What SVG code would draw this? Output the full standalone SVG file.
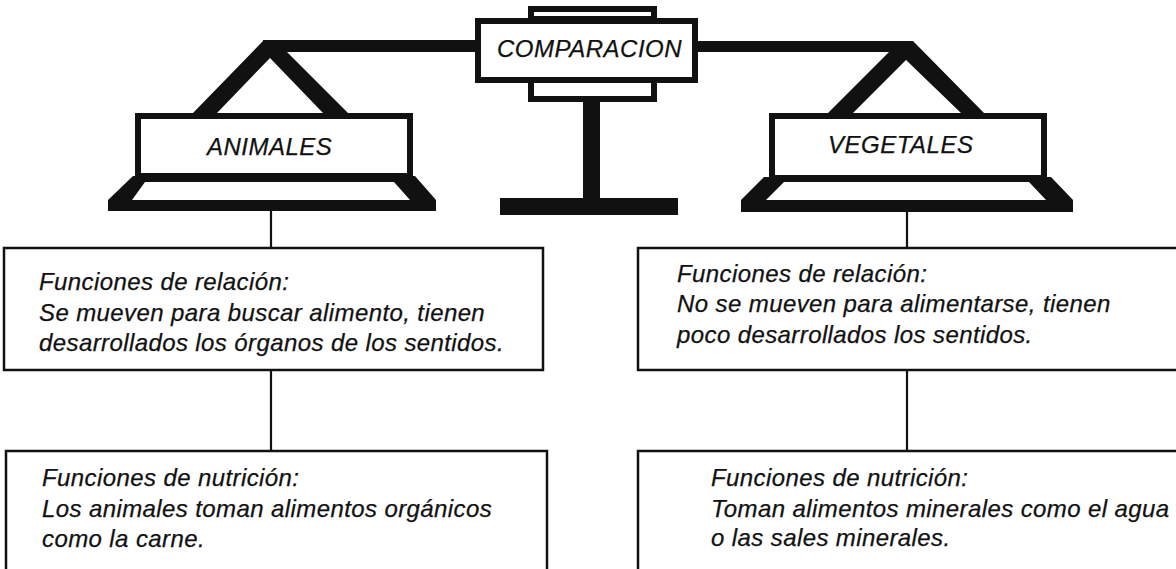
<svg xmlns="http://www.w3.org/2000/svg" width="1176" height="569" viewBox="0 0 1176 569">
<style>
  .t { font-family: "Liberation Sans", Arial, Helvetica, sans-serif; font-style: italic; font-size: 24px; letter-spacing: 0.4px; fill: #111; stroke: #111; stroke-width: 0.25; }
  .h { letter-spacing: 0.5px; }
  .box { fill: #fff; stroke: #111; stroke-width: 2.5; }
  .thick { fill: #fff; stroke: #111; stroke-width: 6; }
  .solid { fill: #111; stroke: none; }
  .conn { stroke: #111; stroke-width: 2.2; fill: none; }
</style>
<rect width="1176" height="569" fill="#fff"/>

<g id="connectors">
  <rect class="solid" x="263" y="40" width="214" height="12"/>
  <rect class="solid" x="696" y="41" width="215" height="11"/>
  <line class="conn" x1="271" y1="210" x2="271" y2="248"/>
  <line class="conn" x1="271" y1="370" x2="271" y2="451"/>
  <line class="conn" x1="907" y1="211" x2="907" y2="248"/>
  <line class="conn" x1="907" y1="370" x2="907" y2="451"/>
</g>

<g id="comparacion">
  <rect class="thick" x="531" y="9" width="123" height="10" stroke-width="5"/>
  <rect class="thick" x="531" y="80" width="123" height="19" stroke-width="5"/>
  <rect class="solid" x="583" y="99" width="17" height="101"/>
  <rect class="solid" x="500" y="198" width="178" height="17"/>
  <rect class="thick" x="478" y="21" width="217" height="59"/>
  <text class="t h" x="497" y="57">COMPARACION</text>
</g>

<g id="animales">
  <path class="solid" fill-rule="evenodd" d="M193,113 L263,41 L276,41 L348,113 Z M217,113 L270,58 L323,113 Z"/>
  <path class="solid" fill-rule="evenodd" d="M133,176 L415,176 L436,200 L436,211 L108,211 L108,200 Z M145,182 L394,182 L410,200 L132,200 Z"/>
  <rect class="thick" x="138" y="116" width="272" height="60"/>
  <text class="t h" x="207" y="155">ANIMALES</text>
</g>

<g id="vegetales">
  <path class="solid" fill-rule="evenodd" d="M828,113 L900,41 L913,41 L984,113 Z M853,113 L906,60 L961,113 Z"/>
  <path class="solid" fill-rule="evenodd" d="M764,177 L1051,177 L1073,200 L1073,212 L741,212 L741,200 Z M784,182 L1029,182 L1046,200 L766,200 Z"/>
  <rect class="thick" x="772" y="116" width="272" height="62"/>
  <text class="t h" x="828" y="153">VEGETALES</text>
</g>

<g id="animales-relacion">
  <rect class="box" x="4" y="248" width="539" height="122"/>
  <text class="t" x="39" y="290">Funciones de relación:</text>
  <text class="t" x="39" y="321">Se mueven para buscar alimento, tienen</text>
  <text class="t" x="39" y="351">desarrollados los órganos de los sentidos.</text>
</g>

<g id="animales-nutricion">
  <rect class="box" x="6" y="451" width="541" height="140"/>
  <text class="t" x="42" y="486">Funciones de nutrición:</text>
  <text class="t" x="42" y="517">Los animales toman alimentos orgánicos</text>
  <text class="t" x="42" y="547">como la carne.</text>
</g>

<g id="vegetales-relacion">
  <rect class="box" x="638" y="248" width="600" height="122"/>
  <text class="t" x="677" y="282">Funciones de relación:</text>
  <text class="t" x="677" y="312">No se mueven para alimentarse, tienen</text>
  <text class="t" x="677" y="343">poco desarrollados los sentidos.</text>
</g>

<g id="vegetales-nutricion">
  <rect class="box" x="638" y="451" width="600" height="140"/>
  <text class="t" x="711" y="486">Funciones de nutrición:</text>
  <text class="t" x="711" y="517">Toman alimentos minerales como el agua</text>
  <text class="t" x="711" y="546">o las sales minerales.</text>
</g>
</svg>
